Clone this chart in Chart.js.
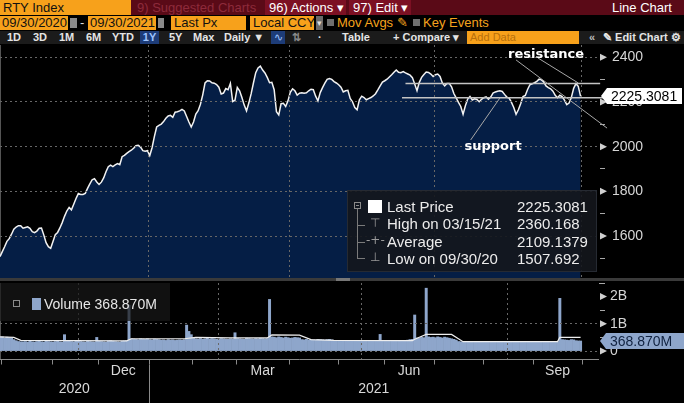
<!DOCTYPE html>
<html><head><meta charset="utf-8">
<script src="https://cdn.jsdelivr.net/npm/chart.js@4.4.1/dist/chart.umd.min.js"></script>
<style>
html,body{margin:0;padding:0;background:#000;}
body{width:684px;height:403px;overflow:hidden;position:relative;font-family:'Liberation Sans',Arial,sans-serif;color:#e6e6e6;}
.a{position:absolute;white-space:nowrap;}
.r1{top:0;height:15px;line-height:15px;font-size:13px;}
.r2{top:16px;height:14px;line-height:14px;font-size:13px;}
.r3{top:31px;height:13px;line-height:13px;font-size:11px;font-weight:bold;color:#e4e4e4;}
.or{background:#f7a11b;color:#111;padding-left:2px;box-sizing:border-box;}
canvas{position:absolute;left:0;}
.lg{font-size:15px;line-height:17px;color:#ececec;}
.sy{color:#9a9a9a;font-family:'DejaVu Sans',sans-serif;font-size:12px;}
</style></head><body>

<!-- toolbar row 1 -->
<div class="a r1" style="left:0;width:684px;background:#5a0a17"></div>
<div class="a r1 or" style="left:0;width:131px;padding-left:3px">RTY Index</div>
<div class="a r1" style="left:137px;color:#8e2a3b">9) Suggested Charts</div>
<div class="a r1" style="left:265px;width:81px;background:#7c1023;color:#fff;padding-left:4px;box-sizing:border-box">96) Actions ▾</div>
<div class="a r1" style="left:349px;width:62px;background:#7c1023;color:#fff;padding-left:4px;box-sizing:border-box">97) Edit ▾</div>
<div class="a r1" style="left:612px;color:#fff">Line Chart</div>

<!-- toolbar row 2 -->
<div class="a r2 or" style="left:0;width:68px">09/30/2020</div>
<div class="a" style="left:70px;top:18px;width:7px;height:10px;background:#8a8a8a"></div>
<div class="a r2" style="left:80px;color:#ddd">-</div>
<div class="a r2 or" style="left:88px;width:68px">09/30/2021</div>
<div class="a" style="left:158px;top:18px;width:6px;height:10px;background:#8a8a8a"></div>
<div class="a r2 or" style="left:171px;width:75px;padding-left:3px">Last Px</div>
<div class="a r2 or" style="left:250px;width:64px;padding-left:3px">Local CCY</div>
<div class="a r2" style="left:316px;width:7px;background:#6a6a6a;color:#ddd;font-size:9px;text-align:center">▾</div>
<div class="a" style="left:327px;top:19px;width:7px;height:7px;background:#6f6f6f"></div>
<div class="a r2" style="left:337px;color:#f5a31d">Mov Avgs ✎</div>
<div class="a" style="left:413px;top:19px;width:7px;height:7px;background:#6f6f6f"></div>
<div class="a r2" style="left:423px;color:#f5a31d">Key Events</div>

<!-- toolbar row 3 -->
<div class="a r3" style="left:0;width:684px;background:#1b1b1b"></div>
<div class="a r3" style="left:7px">1D</div>
<div class="a r3" style="left:33px">3D</div>
<div class="a r3" style="left:59px">1M</div>
<div class="a r3" style="left:86px">6M</div>
<div class="a r3" style="left:112px">YTD</div>
<div class="a r3" style="left:140px;width:19px;background:#1d3c78;color:#9cc3ff;text-align:center">1Y</div>
<div class="a r3" style="left:169px">5Y</div>
<div class="a r3" style="left:193px">Max</div>
<div class="a r3" style="left:224px">Daily ▼</div>
<div class="a r3" style="left:271px;width:14px;background:#1d3c78;color:#9cc3ff;text-align:center;font-weight:normal">∿</div>
<div class="a r3" style="left:292px;color:#8a8a8a">⇅</div>
<div class="a r3" style="left:318px">·</div>
<div class="a r3" style="left:342px">Table</div>
<div class="a r3" style="left:393px">+ Compare ▾</div>
<div class="a r3 or" style="left:467px;width:112px;color:#b8700c;font-weight:normal;padding-left:3px">Add Data</div>
<div class="a r3" style="left:589px;color:#bbb">«</div>
<div class="a r3" style="left:603px">✎ Edit Chart ⚙</div>

<canvas id="pc" width="684" height="237" style="top:44px"></canvas>
<div class="a" style="left:0;top:278px;width:684px;height:3px;background:#3a3a3a"></div>
<div class="a" style="left:336px;top:278px;width:14px;height:3px;background:#777"></div>
<canvas id="vc" width="684" height="122" style="top:281px"></canvas>

<!-- price legend -->
<div class="a" style="left:347px;top:190px;width:250px;height:82px;background:rgba(20,22,28,0.9);border:1px solid #262a32;box-sizing:border-box"></div>
<div class="a" style="left:354px;top:202px;width:7px;height:7px;border:1px solid #8a8a8a;box-sizing:border-box"></div>
<div class="a" style="left:356px;top:205px;width:3px;height:1px;background:#8a8a8a"></div>
<div class="a" style="left:357px;top:209px;width:1px;height:50px;background:#7a7a7a"></div>
<div class="a" style="left:357px;top:225px;width:8px;height:1px;background:#7a7a7a"></div>
<div class="a" style="left:357px;top:242px;width:8px;height:1px;background:#7a7a7a"></div>
<div class="a" style="left:357px;top:258px;width:8px;height:1px;background:#7a7a7a"></div>
<div class="a" style="left:368px;top:200px;width:14px;height:13px;background:#fff"></div>
<div class="a sy" style="left:370px;top:216px">⊤</div>
<div class="a sy" style="left:366px;top:233px">-+-</div>
<div class="a sy" style="left:370px;top:250px">⊥</div>
<div class="a lg" style="left:387px;top:198px">Last Price</div>
<div class="a lg" style="left:387px;top:215px">High on 03/15/21</div>
<div class="a lg" style="left:387px;top:233px">Average</div>
<div class="a lg" style="left:387px;top:250px">Low on 09/30/20</div>
<div class="a lg" style="left:517px;top:198px">2225.3081</div>
<div class="a lg" style="left:517px;top:215px">2360.168</div>
<div class="a lg" style="left:517px;top:233px">2109.1379</div>
<div class="a lg" style="left:517px;top:250px">1507.692</div>

<!-- volume legend -->
<div class="a" style="left:0;top:283px;width:170px;height:38px;background:rgba(24,24,24,0.72)"></div>
<div class="a" style="left:13px;top:300px;width:7px;height:7px;border:1px solid #8a8a8a;box-sizing:border-box"></div>
<div class="a" style="left:32px;top:298px;width:9px;height:12px;background:#8ea6cb"></div>
<div class="a" style="left:44px;top:295px;font-size:14px;line-height:18px;color:#e6e6e6">Volume 368.870M</div>

<script>
// ---- data ----
const price = [
1507.692,1530,1552,1576,1588,1608,1630,1640,1646,1646,
1635,1638,1641,1634,1619,1615,1622,1635,1636,1605,
1570,1552,1545,1575,1606,1616,1636,1660,1688,1712,
1728,1717,1742,1768,1790,1786,1786,1791,1813,1833,
1852,1857,1842,1831,1841,1860,1888,1910,1917,1911,
1918,1924,1919,1955,1961,1970,1978,1984,1993,2004,
2006,1998,1982,1980,1982,1960,1995,2045,2088,2095,
2101,2112,2127,2137,2140,2131,2154,2156,2160,2167,
2160,2135,2110,2088,2110,2146,2161,2190,2232,2285,
2295,2294,2286,2284,2278,2266,2236,2240,2260,2255,
2283,2202,2208,2265,2250,2220,2186,2160,2195,2236,
2285,2331,2352,2360.168,2343,2330,2310,2286,2288,2255,
2156,2142,2192,2194,2180,2205,2243,2259,2250,2231,
2239,2241,2239,2241,2250,2257,2255,2226,2205,2242,
2264,2284,2301,2305,2301,2291,2285,2277,2266,2245,
2250,2252,2216,2201,2175,2165,2210,2226,2220,2210,
2215,2220,2227,2237,2254,2272,2289,2295,2302,2312,
2322,2333,2343,2333,2331,2336,2330,2325,2320,2309,
2280,2250,2288,2310,2323,2334,2332,2325,2314,2322,
2325,2314,2285,2272,2283,2283,2268,2238,2218,2198,
2180,2145,2183,2213,2225,2209,2214,2211,2201,2212,
2219,2223,2212,2222,2240,2245,2248,2250,2247,2234,
2222,2217,2198,2175,2145,2165,2192,2224,2229,2256,
2277,2281,2286,2292,2302,2299,2289,2272,2264,2259,
2248,2230,2219,2230,2224,2208,2188,2195,2220,2261,
2282,2270,2225.3081
];
// volume, millions of shares
const volume = [
500,520,480,510,490,470,420,380,350,340,
340,350,330,360,340,330,350,370,340,330,
360,350,340,330,350,360,340,330,600,380,
360,350,340,370,360,350,340,330,360,350,
340,330,500,360,350,340,330,370,380,360,
350,340,330,360,370,380,1680,450,440,430,
420,450,440,430,450,420,410,440,430,420,
400,410,390,420,400,410,390,400,410,400,
420,950,720,600,480,450,440,460,430,450,
470,440,460,450,430,440,460,450,440,430,
450,440,670,460,450,440,430,470,460,450,
440,460,450,470,460,450,460,1890,520,510,
490,520,500,480,510,490,470,480,500,490,
480,420,410,430,400,420,410,400,430,420,
410,400,420,430,410,380,370,390,380,370,
360,380,390,370,380,390,380,370,360,380,
390,370,380,390,380,610,380,370,390,380,
370,380,390,380,370,380,390,400,420,430,
1320,480,470,500,490,2300,520,500,510,490,
520,500,480,510,490,470,450,430,400,350,
340,330,340,350,340,330,340,350,340,330,
340,350,340,330,340,350,340,330,340,350,
340,330,340,350,340,330,340,350,340,330,
340,350,340,330,340,350,340,330,340,350,
340,330,340,1930,420,410,400,390,420,410,
380,370,368.87
];
// volume moving average (trading-day index, millions)
const maDay = [0,6,9,55,57,80,85,100,116,118,130,135,145,179,180,185,196,201,242,243,252];
const maVal = [520,500,390,375,450,450,500,480,480,590,580,420,390,380,430,610,610,345,345,500,500];

// axis categories
const monthNames = ['','','Dec','','','Mar','','','Jun','','','Sep'];
const monthFirstDay = [1,23,43,65,84,103,126,147,167,189,210,232];
const yearNames = ['2020','2021'];
const yearFirstDay = [0,65];
const quarterFirstDay = [65,126,189,253];
const priceTicks = [1500,1600,1700,1800,1900,2000,2100,2200,2300,2400];
const priceTickLabels = ['','1600','','1800','','2000','','2200','','2400'];
const volTicks = [0,500,1000,1500,2000];
const volTickLabels = ['0','','1B','','2B'];

// annotations (data units)
const levelValue = [2283, 2219];
const levelFromDay = [176, 174.5];
const levelToDay = [260.5, 263];
const noteText = ['resistance','support'];
const noteAt = [[237, 2410],[214, 2000]];
const pointerFrom = [[224,2388],[233.5,2397],[204.3,2030]];
const pointerTo = [[263.5,2083],[251,2285],[217,2218]];

Chart.defaults.font.family = "'Liberation Sans', Arial, sans-serif";

function tri(ctx,x,y){ctx.beginPath();ctx.moveTo(x,y-3.5);ctx.lineTo(x+7,y);ctx.lineTo(x,y+3.5);ctx.closePath();ctx.fill();}
function tag(ctx,x0,y,x1,bg,fg,text){
  ctx.fillStyle=bg;ctx.beginPath();ctx.moveTo(x0,y);ctx.lineTo(x0+6,y-8);ctx.lineTo(x1,y-8);ctx.lineTo(x1,y+8);ctx.lineTo(x0+6,y+8);ctx.closePath();ctx.fill();
  ctx.fillStyle=fg;ctx.font="14px 'Liberation Sans', Arial";ctx.textAlign='left';ctx.textBaseline='middle';ctx.fillText(text,x0+10,y+1);
}

const priceDeco = {id:'priceDeco', afterDraw(chart){
  const {ctx, chartArea:a, scales:{x,y}} = chart;
  ctx.save();
  ctx.fillStyle='#d0d0d0';
  priceTicks.forEach((v,k)=>{ if(priceTickLabels[k]) tri(ctx,a.right+1,y.getPixelForValue(v)); });
  ctx.strokeStyle='#c4c4c4'; ctx.lineWidth=1.5;
  levelValue.forEach((v,k)=>{ const py=y.getPixelForValue(v); ctx.beginPath(); ctx.moveTo(x.getPixelForValue(levelFromDay[k]),py); ctx.lineTo(x.getPixelForValue(levelToDay[k]),py); ctx.stroke(); });
  ctx.strokeStyle='#a8a8a8'; ctx.lineWidth=1;
  pointerFrom.forEach((p,k)=>{ ctx.beginPath(); ctx.moveTo(x.getPixelForValue(p[0]),y.getPixelForValue(p[1])); ctx.lineTo(x.getPixelForValue(pointerTo[k][0]),y.getPixelForValue(pointerTo[k][1])); ctx.stroke(); });
  ctx.fillStyle='#ffffff'; ctx.font="bold 13px 'DejaVu Sans', Verdana, sans-serif"; ctx.textAlign='center'; ctx.textBaseline='middle';
  noteText.forEach((t,k)=>ctx.fillText(t, x.getPixelForValue(noteAt[k][0]), y.getPixelForValue(noteAt[k][1])));
  const last = price[price.length-1];
  tag(ctx, a.right+2, Math.round(y.getPixelForValue(last)), 682, '#ffffff', '#000000', last.toFixed(4));
  ctx.restore();
}};

const volDeco = {id:'volDeco', afterDraw(chart){
  const {ctx, chartArea:a, scales:{x,y}} = chart;
  ctx.save();
  ctx.fillStyle='#d0d0d0';
  volTicks.forEach((v,k)=>{ if(volTickLabels[k]) tri(ctx,a.right+1,y.getPixelForValue(v)); });
  ctx.strokeStyle='#a8a8a8'; ctx.lineWidth=1;
  ctx.beginPath(); ctx.moveTo(a.right,a.top+0.5); ctx.lineTo(a.right+6,a.top+0.5); ctx.stroke();
  const last = volume[volume.length-1];
  tag(ctx, a.right+1, Math.round(y.getPixelForValue(last)), 684, '#8ea6cb', '#102240', last.toFixed(3)+'M');
  const yb = a.bottom + 0.5;
  ctx.strokeStyle='#8a8a8a';
  ctx.beginPath(); ctx.moveTo(a.left,yb); ctx.lineTo(a.right,yb); ctx.stroke();
  const bounds = monthFirstDay.map(d=>d-0.5).concat([price.length-0.5]);
  bounds.forEach(b=>{ const px=Math.round(x.getPixelForValue(b))+0.5; ctx.beginPath(); ctx.moveTo(px,yb); ctx.lineTo(px,yb+5); ctx.stroke(); });
  ctx.fillStyle='#d8d8d8'; ctx.font="14px 'Liberation Sans', Arial"; ctx.textAlign='center'; ctx.textBaseline='middle';
  monthNames.forEach((n,k)=>{ if(!n) return; const c=(x.getPixelForValue(bounds[k])+x.getPixelForValue(bounds[k+1]))/2; ctx.fillText(n,c,a.bottom+12); });
  yearNames.forEach((n,k)=>{
    const l = Math.max(a.left, x.getPixelForValue(yearFirstDay[k]-0.5));
    const r = k+1<yearFirstDay.length ? x.getPixelForValue(yearFirstDay[k+1]-0.5) : a.right;
    ctx.fillText(n,(l+r)/2,a.bottom+30);
    if(k>0){ const px=Math.round(l)+0.5; ctx.beginPath(); ctx.moveTo(px,yb+5); ctx.lineTo(px,chart.height); ctx.stroke(); }
  });
  ctx.restore();
}};

function noPadX(s){ s.height=0; s.paddingLeft=0; s.paddingRight=0; s.paddingTop=0; s.paddingBottom=0; }
function noPadY(s){ s.width=85; s.paddingTop=0; s.paddingBottom=0; s.paddingLeft=0; s.paddingRight=0; }

function xScale(){ return {
  type:'linear', min:0, max:260, offset:false,
  afterBuildTicks:s=>{ s.ticks = quarterFirstDay.map(d=>({value:d-0.5})); },
  afterFit:noPadX,
  ticks:{display:false},
  grid:{color:'#676767', drawTicks:false, z:1},
  border:{display:false, dash:[2,3]}
};}

new Chart(document.getElementById('pc'), {
  type:'line',
  data:{datasets:[{
    data: price.map((v,i)=>({x:i,y:v})),
    borderColor:'#f2f2f2', borderWidth:1.5, pointRadius:0, tension:0,
    fill:'start', backgroundColor:'#051e45'
  }]},
  options:{
    responsive:false, animation:false, events:[],
    layout:{padding:{top:1,bottom:3,left:0,right:0}},
    plugins:{legend:{display:false}, tooltip:{enabled:false}},
    scales:{
      x: xScale(),
      y:{type:'linear', position:'right', min:1412, max:2455,
        afterBuildTicks:s=>{ s.ticks = priceTicks.map(v=>({value:v})); },
        afterFit:noPadY,
        ticks:{color:'#d6d6d6', font:{size:14}, padding:7, autoSkip:false,
          callback:v=>priceTickLabels[priceTicks.indexOf(v)]},
        grid:{z:1, color:c=>(c.tick && priceTickLabels[priceTicks.indexOf(c.tick.value)]) ? '#676767' : 'rgba(0,0,0,0)',
          tickColor:'#a8a8a8', tickLength:6, drawTicks:true},
        border:{display:true, color:'#a8a8a8', dash:[2,3]}
      }
    }
  },
  plugins:[priceDeco]
});

new Chart(document.getElementById('vc'), {
  type:'bar',
  data:{datasets:[
    {type:'line', order:0, data: maDay.map((d,k)=>({x:d,y:maVal[k]})), borderColor:'#eeeeee', borderWidth:1.2, pointRadius:0, tension:0, fill:false},
    {type:'bar', order:1, data: volume.map((v,i)=>({x:i,y:v})), backgroundColor:'#8ea6cb', borderWidth:0, barPercentage:1, categoryPercentage:1}
  ]},
  options:{
    responsive:false, animation:false, events:[],
    layout:{padding:{top:2,bottom:44,left:0,right:0}},
    plugins:{legend:{display:false}, tooltip:{enabled:false}},
    scales:{
      x: xScale(),
      y:{type:'linear', position:'right', min:-290, max:2490,
        afterBuildTicks:s=>{ s.ticks = volTicks.map(v=>({value:v})); },
        afterFit:noPadY,
        ticks:{color:'#d6d6d6', font:{size:14}, padding:5, autoSkip:false,
          callback:v=>volTickLabels[volTicks.indexOf(v)]},
        grid:{z:1, color:c=>(c.tick && (c.tick.value===0 || c.tick.value===1000)) ? '#676767' : 'rgba(0,0,0,0)',
          tickColor:'#a8a8a8', tickLength:6, drawTicks:true},
        border:{display:true, color:'#a8a8a8', dash:[2,3]}
      }
    }
  },
  plugins:[volDeco]
});
</script>
</body></html>
